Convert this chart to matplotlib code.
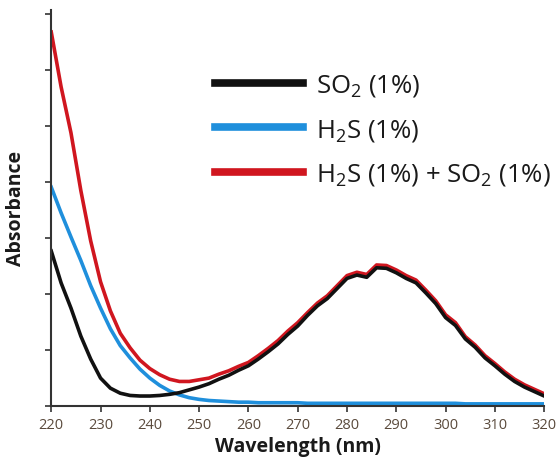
import matplotlib.pyplot as plt

plt.rcParams['font.family'] = ['Open Sans', 'DejaVu Sans']
plt.rcParams['mathtext.fontset'] = 'custom'
plt.rcParams['mathtext.rm'] = 'Open Sans'

# wavelength grid (nm)
wavelength = [220, 222, 224, 226, 228, 230, 232, 234, 236, 238,
              240, 242, 244, 246, 248, 250, 252, 254, 256, 258,
              260, 262, 264, 266, 268, 270, 272, 274, 276, 278,
              280, 282, 284, 286, 288, 290, 292, 294, 296, 298,
              300, 302, 304, 306, 308, 310, 312, 314, 316, 318, 320]

so2 = [2.77, 2.20, 1.75, 1.25, 0.84, 0.50, 0.32, 0.23, 0.19, 0.18,
       0.18, 0.19, 0.21, 0.24, 0.29, 0.34, 0.40, 0.48, 0.55, 0.64,
       0.72, 0.84, 0.97, 1.11, 1.28, 1.43, 1.62, 1.79, 1.92, 2.10,
       2.28, 2.34, 2.30, 2.47, 2.46, 2.38, 2.28, 2.20, 2.02, 1.83,
       1.58, 1.44, 1.20, 1.05, 0.86, 0.72, 0.57, 0.44, 0.34, 0.26, 0.18]

h2s = [3.91, 3.45, 3.02, 2.60, 2.15, 1.75, 1.38, 1.08, 0.86, 0.66,
       0.50, 0.37, 0.27, 0.20, 0.15, 0.12, 0.10, 0.09, 0.08, 0.07,
       0.07, 0.06, 0.06, 0.06, 0.06, 0.06, 0.05, 0.05, 0.05, 0.05,
       0.05, 0.05, 0.05, 0.05, 0.05, 0.05, 0.05, 0.05, 0.05, 0.05,
       0.05, 0.05, 0.04, 0.04, 0.04, 0.04, 0.04, 0.04, 0.04, 0.04, 0.04]

mix = [6.68, 5.70, 4.88, 3.85, 2.95, 2.22, 1.70, 1.30, 1.04, 0.82,
       0.67, 0.56, 0.48, 0.44, 0.44, 0.47, 0.50, 0.57, 0.63, 0.71,
       0.78, 0.90, 1.03, 1.17, 1.34, 1.49, 1.67, 1.84, 1.97, 2.15,
       2.33, 2.39, 2.35, 2.52, 2.51, 2.43, 2.33, 2.25, 2.07, 1.88,
       1.63, 1.49, 1.24, 1.09, 0.90, 0.76, 0.61, 0.48, 0.38, 0.30, 0.22]

labels = [r'SO$_2$ (1%)', r'H$_2$S (1%)', r'H$_2$S (1%) + SO$_2$ (1%)']
colors = ['#111111', '#1f8fdc', '#d0161f']

fig = plt.figure(figsize=(5.57, 4.60), dpi=100)
ax = fig.add_axes([0.092, 0.115, 0.885, 0.862])

l3, = ax.plot(wavelength, mix, color=colors[2], lw=2.6)
l2, = ax.plot(wavelength, h2s, color=colors[1], lw=2.6)
l1, = ax.plot(wavelength, so2, color=colors[0], lw=2.6)

ax.set_xlim(220, 320)
ax.set_ylim(0, 7.08)
ax.set_xticks(range(220, 321, 10))
ax.set_yticks(range(0, 8))
ax.set_yticklabels([])
ax.tick_params(axis='x', colors='#333333', labelcolor='#5a4a3c', labelsize=10.5, length=4, width=1.2)
ax.tick_params(axis='y', colors='#333333', length=4, width=1.2)
for s in ['top', 'right']:
    ax.spines[s].set_visible(False)
for s in ['left', 'bottom']:
    ax.spines[s].set_color('#333333')
    ax.spines[s].set_linewidth(1.5)

ax.set_xlabel('Wavelength (nm)', fontsize=14, fontweight='bold', labelpad=3, color='#1a1a1a')
ax.set_ylabel('Absorbance', fontsize=14, fontweight='bold', labelpad=11, color='#1a1a1a')

leg = ax.legend([l1, l2, l3], labels, loc='upper left', bbox_to_anchor=(0.333, 0.842),
                frameon=False, fontsize=18.5, handlelength=3.4, handletextpad=0.5,
                labelspacing=0.72, borderpad=0, borderaxespad=0)
for h in leg.legend_handles:
    h.set_linewidth(5.5)
for t in leg.get_texts():
    t.set_color('#1a1a1a')

plt.savefig('out.png', dpi=100)
